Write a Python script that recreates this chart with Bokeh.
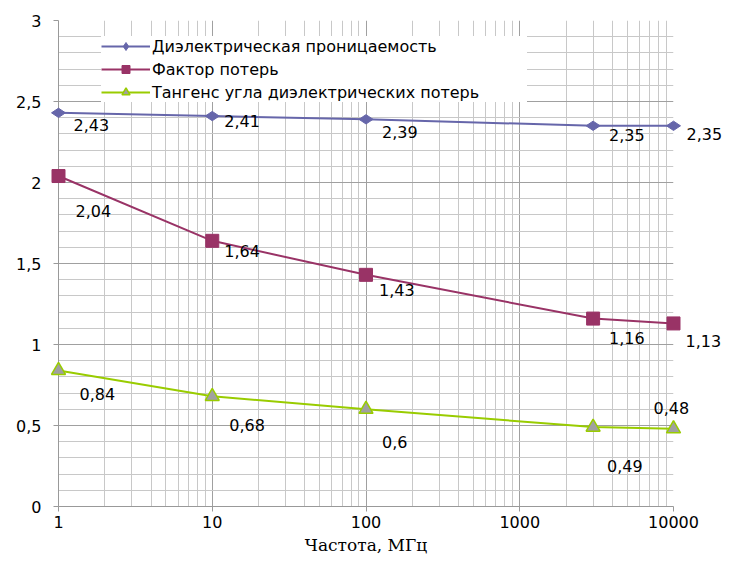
from bokeh.plotting import figure
from bokeh.models import (ColumnDataSource, FixedTicker, CustomJSTickFormatter,
                          Legend, LegendItem)
from bokeh.core.properties import value
from bokeh.embed import file_html
from bokeh.resources import INLINE

# ---- data ----
freq = [1, 10, 100, 3000, 10000]
permittivity = [2.43, 2.41, 2.39, 2.35, 2.35]
loss_factor = [2.04, 1.64, 1.43, 1.16, 1.13]
loss_tangent = [0.84, 0.68, 0.60, 0.49, 0.48]
series_names = ["Диэлектрическая проницаемость", "Фактор потерь",
                "Тангенс угла диэлектрических потерь"]
x_ticks = [1, 10, 100, 1000, 10000]
y_ticks = [0, 0.5, 1, 1.5, 2, 2.5, 3]

# label placement (pixel offsets, left edge / vertical centre)
dx1 = [15, 12, 16, 16, 13]
dy1 = [12, 5, 13, 9, 8]
dx2 = [17, 12, 13, 16, 12]
dy2 = [35, 10, 15, 19, 18]
dx3 = [21, 17, 16, 14, -20]
dy3 = [24, 29, 33, 39, -21]

FONT = "DejaVu Sans"
FS = "16px"

p = figure(width=723, height=557, x_axis_type="log",
           x_range=(1, 10000), y_range=(0, 3),
           output_backend="svg", toolbar_location=None,
           min_border_left=58, min_border_right=50,
           min_border_top=20, min_border_bottom=50)
p.outline_line_color = None
p.background_fill_color = "white"
p.border_fill_color = "white"

minor_x = [m * d for d in [1, 10, 100, 1000] for m in range(2, 10)]
p.xaxis.ticker = FixedTicker(ticks=x_ticks, minor_ticks=minor_x)
minor_y = [round(i * 0.1, 1) for i in range(31) if i % 5 != 0]
p.yaxis.ticker = FixedTicker(ticks=y_ticks, minor_ticks=minor_y)
p.xaxis.formatter = CustomJSTickFormatter(code="return tick.toString().replace('.', ',');")
p.yaxis.formatter = CustomJSTickFormatter(code="return tick.toString().replace('.', ',');")

for g in (p.xgrid, p.ygrid):
    g.grid_line_color = "#a0a0a0"
    g.grid_line_width = 1
    g.minor_grid_line_color = "#c8c8c8"
    g.minor_grid_line_width = 1

for ax in (p.xaxis, p.yaxis):
    ax.axis_line_color = "#999999"
    ax.major_tick_line_color = "#999999"
    ax.minor_tick_line_color = None
    ax.major_tick_in = 0
    ax.major_tick_out = 5
    ax.major_label_text_font = FONT
    ax.major_label_text_font_size = FS
    ax.major_label_text_color = "black"

p.yaxis.major_label_standoff = 12
p.xaxis.major_label_standoff = 4
p.xaxis.axis_label = "Частота, МГц"
p.xaxis.axis_label_text_font = "DejaVu Serif"
p.xaxis.axis_label_text_font_size = "17px"
p.xaxis.axis_label_text_font_style = "normal"
p.xaxis.axis_label_text_color = "black"
p.xaxis.axis_label_standoff = 4

colors = ["#6666aa", "#993366", "#99cc00"]
series = [permittivity, loss_factor, loss_tangent]
dxs = [dx1, dx2, dx3]
dys = [dy1, dy2, dy3]
items = []
for k in range(3):
    src = ColumnDataSource(dict(
        x=freq, y=series[k],
        lbl=[str(v).replace(".", ",") for v in series[k]],
        dx=dxs[k], dy=dys[k]))
    ln = p.line("x", "y", source=src, line_color=colors[k], line_width=2)
    if k == 0:
        mk = p.scatter("x", "y", source=src, marker="diamond", size=14,
                       angle=1.5708, fill_color="#6666aa", line_color="#6666aa")
    elif k == 1:
        mk = p.scatter("x", "y", source=src, marker="square", size=13,
                       fill_color="#993366", line_color="#993366")
    else:
        mk = p.scatter("x", "y", source=src, marker="triangle", size=14,
                       fill_color="#a0a0a0", line_color="#99cc00", line_width=1.5)
    mk.level = "overlay"
    tx = p.text("x", "y", text="lbl", source=src, x_offset="dx", y_offset="dy",
                text_font=value(FONT), text_font_size=FS, text_color="black",
                text_align="left", text_baseline="middle")
    tx.level = "overlay"
    items.append(LegendItem(label=series_names[k], renderers=[ln, mk]))

legend = Legend(items=items, location=(43, 404),
                background_fill_color="white", background_fill_alpha=1.0,
                border_line_color=None,
                label_text_font=FONT, label_text_font_size=FS,
                label_text_color="black",
                glyph_width=49, glyph_height=20, label_height=20,
                label_width=375, label_standoff=2, spacing=3, padding=6,
                margin=0)
p.add_layout(legend, "center")

open("out.html", "w").write(file_html(p, INLINE))
